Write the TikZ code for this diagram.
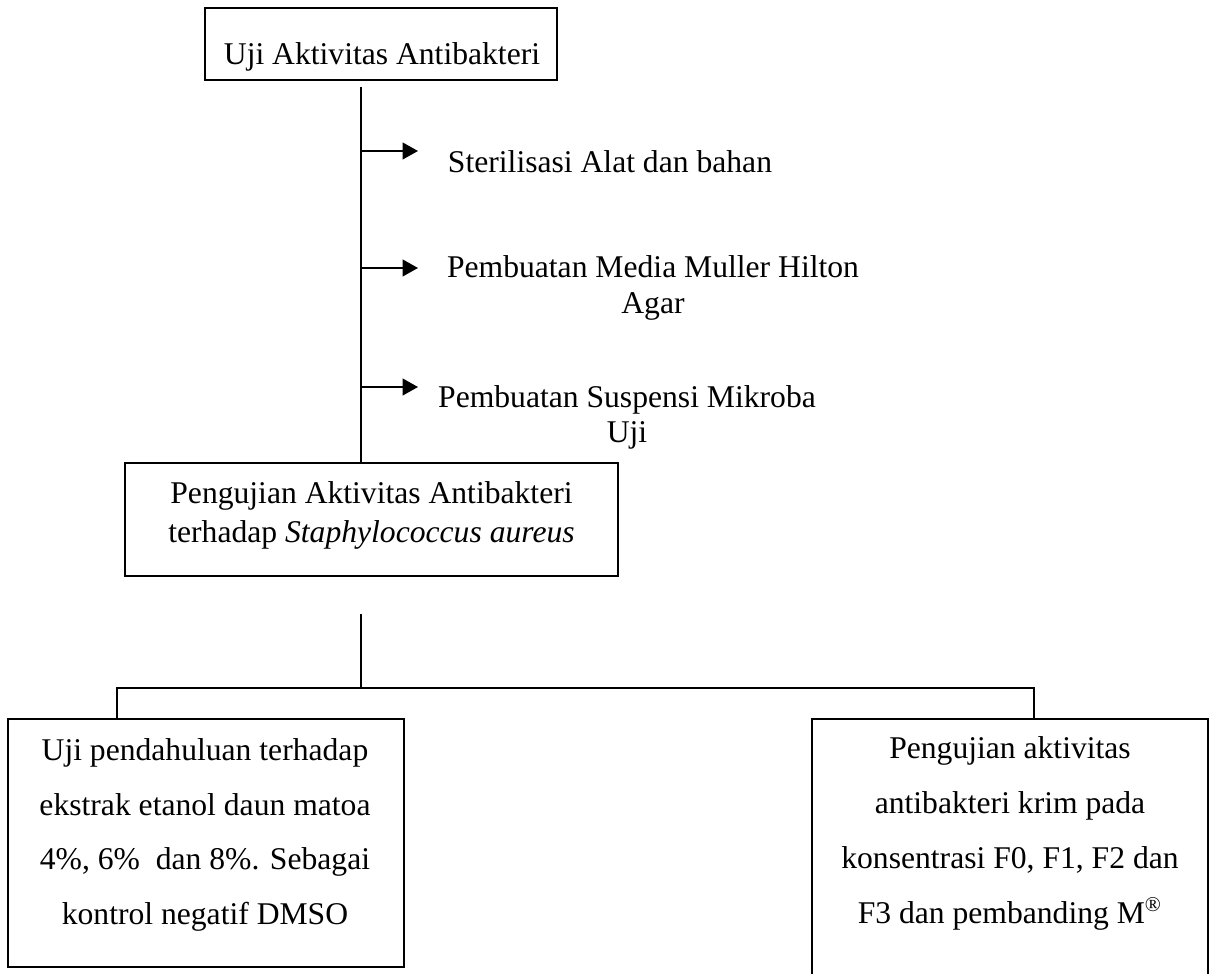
\documentclass[tikz,border=0pt]{standalone}
\usepackage{fontspec}
\setmainfont{Liberation Serif}
\usetikzlibrary{arrows.meta,fit}

\begin{document}
\begin{tikzpicture}
    [x=0.3795pt,y=-0.3795pt,>={Triangle[length=5.8pt,width=6.3pt]},
     box/.style={draw,line width=0.75pt,inner sep=0pt},
     line/.style={line width=0.75pt},
     txt/.style={inner sep=0pt,align=center,font=\fontsize{12}{#1}\selectfont},
     txt/.default=13.7]

    \clip (0,0) rectangle (1215,974);

    \node[box,fit={(205,8) (557,80)}] (uji) {};
    \node[box,fit={(125,463) (618,576)}] (peng) {};
    \node[box,fit={(8,719) (404,967)}] (lbox) {};
    \node[box,fit={(812,719) (1208,995)}] (rbox) {};

    \node[txt,anchor=base] (ujitxt) at (382,65) {Uji Aktivitas Antibakteri};
    \node[txt,anchor=base] (steril) at (610,173) {Sterilisasi Alat dan bahan};
    \node[txt=13.7,anchor=north] (media) at (653,255.4) {Pembuatan Media Muller Hilton\\Agar};
    \node[txt=13.3,anchor=north] (suspensi) at (627,385.4) {Pembuatan Suspensi Mikroba\\Uji};
    \node[txt=14.8,anchor=north] (pengtxt) at (371.5,481.4)
        {Pengujian Aktivitas Antibakteri\\terhadap \textit{Staphylococcus aureus}};
    \node[txt=20.7,anchor=north] (pendtxt) at (205,738.4)
        {Uji pendahuluan terhadap\\ekstrak etanol daun matoa\\4\%, 6\%\ \ dan 8\%. Sebagai\\kontrol negatif DMSO};
    \node[txt=20.8,anchor=north] (krimtxt) at (1010,736.4)
        {Pengujian aktivitas\\antibakteri krim pada\\konsentrasi F0, F1, F2 dan\\F3 dan pembanding M\textsuperscript{®}};

    \coordinate (t0) at (361,87);
    \coordinate (a1) at (418,151);
    \coordinate (a2) at (418,268);
    \coordinate (a3) at (418,387);
    \coordinate (b0) at (361,614);
    \coordinate (j) at (361,688);
    \coordinate (lk) at (117,688);
    \coordinate (rk) at (1034,688);

    \draw[line] (t0) -- (t0 |- peng.north);
    \foreach \a in {a1,a2,a3}
        \draw[line,->] (t0 |- \a) -- (\a);
    \draw[line] (b0) -- (j);
    \draw[line] (lbox.north -| lk) -- (lk) -- (rk) -- (rbox.north -| rk);

\end{tikzpicture}
\end{document}
